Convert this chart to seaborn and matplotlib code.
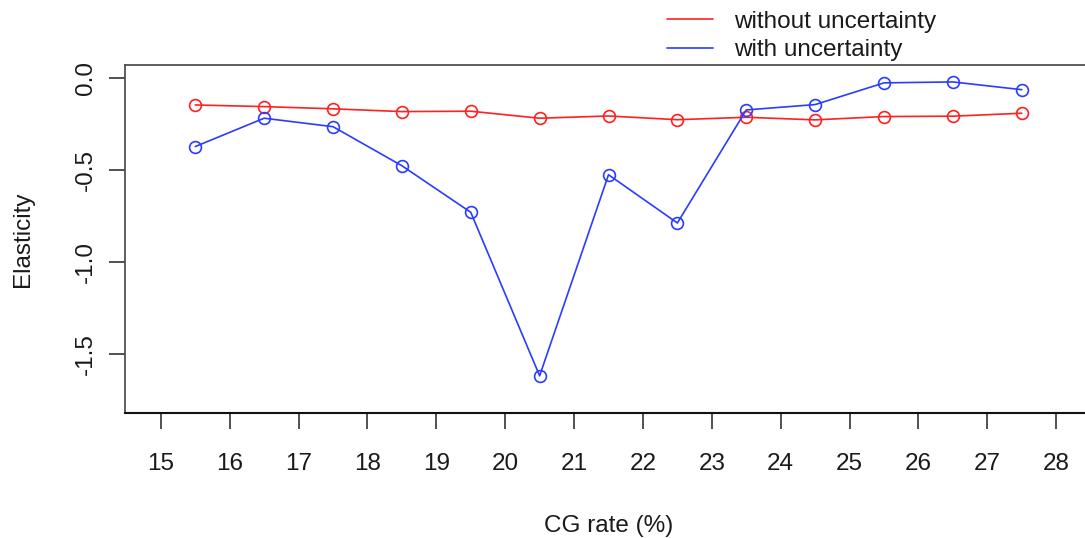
import matplotlib
matplotlib.use("Agg")
import matplotlib.pyplot as plt
from matplotlib.lines import Line2D
import seaborn as sns
import pandas as pd

cg_rate = [15.5, 16.5, 17.5, 18.5, 19.5, 20.5, 21.5, 22.5, 23.5, 24.5, 25.5, 26.5, 27.5]
without_unc = [-0.147, -0.156, -0.168, -0.183, -0.181, -0.219, -0.207, -0.227,
               -0.214, -0.228, -0.210, -0.208, -0.192]
with_unc = [-0.373, -0.219, -0.265, -0.477, -0.730, -1.618, -0.526, -0.788,
            -0.174, -0.145, -0.027, -0.022, -0.064]
series_names = ["without uncertainty", "with uncertainty"]
series_colors = ["#ff2020", "#2a3cff"]
x_ticks = list(range(15, 29))
y_ticks = [0.0, -0.5, -1.0, -1.5]
y_tick_labels = ["0.0", "-0.5", "-1.0", "-1.5"]

sns.set_theme(style="white")
plt.rcParams["font.family"] = ["Liberation Sans", "DejaVu Sans"]

W, H = 1085, 538
fig = plt.figure(figsize=(W / 100, H / 100), dpi=100)
ax = fig.add_axes([125 / W, 1 - 413 / H, (1092 - 125) / W, (413 - 65) / H])

df = pd.DataFrame({
    "rate": cg_rate * 2,
    "elasticity": without_unc + with_unc,
    "series": [series_names[0]] * len(cg_rate) + [series_names[1]] * len(cg_rate),
})

for name, col in zip(series_names, series_colors):
    sub = df[df["series"] == name]
    sns.lineplot(data=sub, x="rate", y="elasticity", ax=ax, color=col,
                 marker="o", markersize=8.5, markerfacecolor="none",
                 markeredgecolor=col, markeredgewidth=1.2, linewidth=1.2,
                 legend=False)

ax.set_xlim(14.48, 28.52)
ax.set_ylim(-1.82, 0.07)
ax.set_xticks(x_ticks)
ax.set_xticklabels([str(t) for t in x_ticks])
ax.set_yticks(y_ticks)
ax.set_yticklabels(y_tick_labels, rotation=90, va="center")

ax.tick_params(axis="both", direction="out", length=11.5, width=1.1,
               colors="#222222", labelsize=17.5, labelcolor="#1a1a1a")
ax.tick_params(axis="x", pad=17)
ax.tick_params(axis="y", pad=9)
ax.tick_params(bottom=True, left=True)

for s in ["left", "top", "right", "bottom"]:
    ax.spines[s].set_color("#444444")
    ax.spines[s].set_linewidth(1.2)
ax.spines["bottom"].set_color("#111111")
ax.spines["bottom"].set_linewidth(1.5)

ax.set_xlabel("CG rate (%)", fontsize=17.5, color="#1a1a1a", labelpad=29)
ax.set_ylabel("Elasticity", fontsize=17.5, color="#1a1a1a", labelpad=29)
ax.grid(False)

handles = [Line2D([0], [0], color=c, linewidth=1.2) for c in series_colors]
fig.legend(handles, series_names, loc="upper left",
           bbox_to_anchor=(657 / W, 1 - 1 / H), frameon=False,
           fontsize=17.5, handlelength=1.9, handletextpad=0.85,
           labelspacing=0.27, borderaxespad=0, labelcolor="#1a1a1a")

fig.savefig("out.png", dpi=100)
